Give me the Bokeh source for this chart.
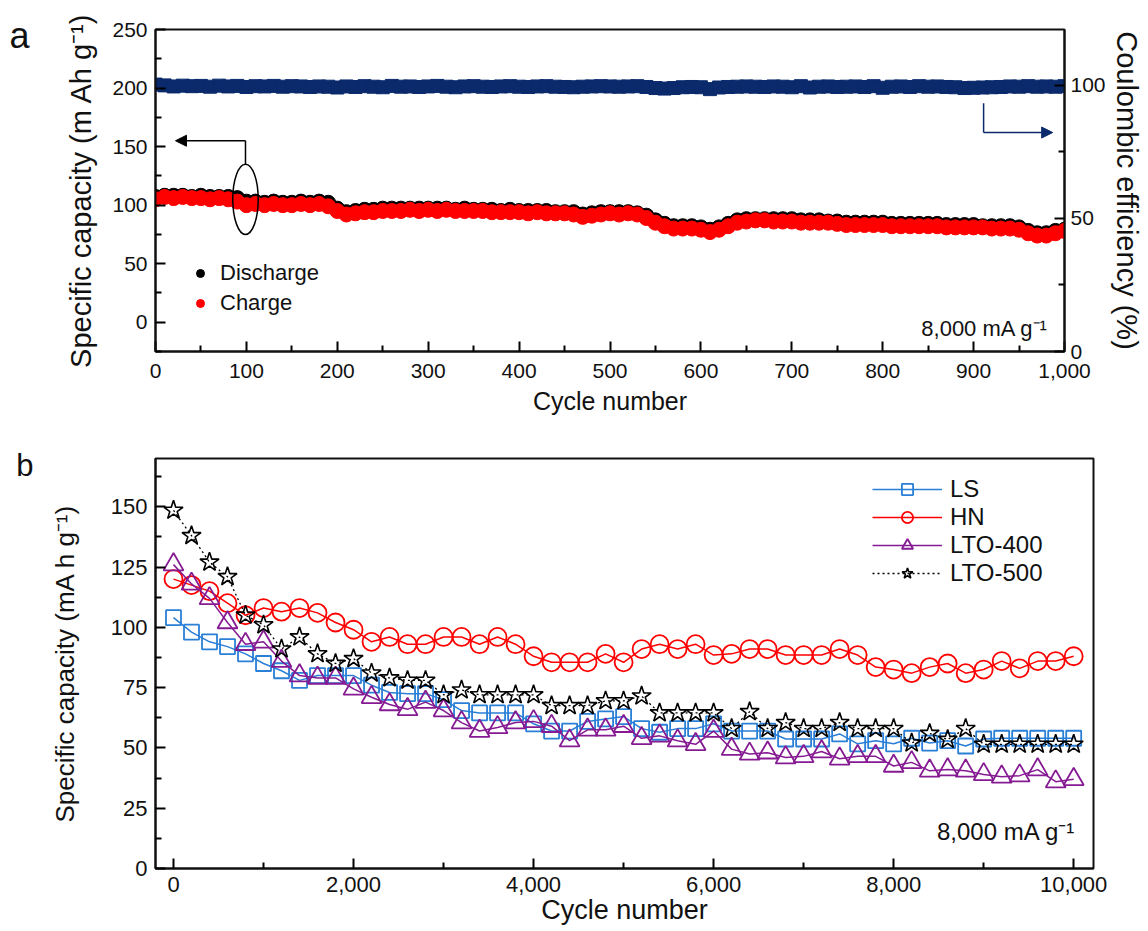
from bokeh.plotting import figure
from bokeh.models import (Range1d, LinearAxis, FixedTicker, NumeralTickFormatter,
                          Legend, LegendItem, Label, Arrow, NormalHead)
from bokeh.embed import file_html
from bokeh.resources import INLINE

FONT = "Liberation Sans"

# ---------------- panel a data (every 10 cycles) ----------------
cycles_a = list(range(0, 1001, 10))
discharge = [
    107, 108, 108, 108, 107, 108, 107, 107, 107, 106,
    103, 103, 102, 103, 102, 102, 103, 102, 103, 102,
    97, 94, 95, 96, 96, 97, 97, 97, 97, 97,
    97, 97, 97, 96, 97, 96, 96, 96, 95, 96,
    95, 95, 95, 95, 94, 94, 94, 92, 93, 94,
    94, 94, 94, 93, 91, 87, 84, 82, 82, 82,
    81, 79, 81, 84, 87, 88, 88, 88, 88, 88,
    88, 87, 87, 87, 86, 86, 85, 85, 85, 85,
    85, 84, 84, 84, 84, 84, 84, 83, 83, 83,
    83, 82, 82, 82, 82, 81, 78, 76, 76, 78,
    79]
charge = [
    105, 107, 106, 107, 106, 106, 105, 106, 105, 103,
    100, 101, 100, 101, 100, 100, 101, 100, 101, 99,
    95, 92, 93, 94, 94, 95, 95, 95, 96, 95,
    96, 95, 96, 95, 95, 95, 95, 94, 94, 94,
    94, 93, 94, 93, 93, 93, 92, 90, 91, 92,
    93, 92, 93, 92, 89, 85, 82, 80, 80, 80,
    79, 77, 79, 82, 85, 86, 87, 87, 86, 86,
    86, 85, 85, 85, 85, 84, 83, 83, 83, 83,
    83, 82, 82, 82, 82, 82, 82, 81, 81, 81,
    81, 81, 80, 80, 80, 79, 76, 74, 74, 76,
    78]
coulombic = [
    100.3, 100.0, 99.6, 99.9, 99.7, 99.8, 99.5, 99.9, 99.6, 99.8,
    99.4, 99.7, 99.6, 99.8, 99.5, 99.7, 99.6, 99.4, 99.6, 99.5,
    99.2, 99.6, 99.4, 99.7, 99.5, 99.3, 99.8, 99.5, 99.6, 99.4,
    99.6, 99.8, 99.5, 99.3, 99.6, 99.7, 99.5, 99.4, 99.6, 99.7,
    99.5, 99.4, 99.6, 99.7, 99.5, 99.4, 99.3, 99.5, 99.6, 99.7,
    99.6, 99.5, 99.6, 99.7, 99.4, 99.0, 98.8, 99.0, 99.3, 99.4,
    99.3, 98.6, 99.2, 99.4, 99.5, 99.6, 99.5, 99.4, 99.6, 99.5,
    99.3, 99.7, 99.2, 99.5, 99.6, 99.4, 99.5, 99.6, 99.4, 99.7,
    99.1, 99.5, 99.6, 99.4, 99.7, 99.5, 99.6, 99.4, 99.3, 99.0,
    99.1, 99.2, 99.3, 99.4, 99.6, 99.5, 99.7, 99.5, 99.6, 99.5,
    99.7]

# ---------------- panel b data (every 200 cycles) ----------------
cycles_b = list(range(0, 10001, 200))
ls = [104, 98, 94, 92, 89, 85, 82, 78, 80, 80,
      80, 76, 73, 72.5, 72.5, 70, 65.5, 64.5, 64.5, 64.5,
      60, 57, 57, 61, 62, 63, 58, 56.5, 58, 58,
      60, 57, 57, 57, 53.7, 53.7, 53.7, 55.8, 51.7, 53,
      51.7, 54, 52, 53, 50.8, 53.7, 54, 54, 54, 54,
      54]
hn = [120, 117.5, 115, 110, 105, 108, 106.5, 108, 106, 102,
      99, 94, 96, 93, 93, 96, 96, 93, 96, 93,
      88, 85.5, 85.5, 85.5, 89, 85.5, 91, 93, 91, 93,
      88.5, 89, 91, 91, 88.5, 88.5, 88.5, 91, 88.5, 83.5,
      82.5, 81, 83.5, 85, 81, 82.5, 86, 83, 86, 86,
      88]
lto400 = [126, 118, 112, 102, 93, 94, 86, 80, 79, 79,
          74.5, 71, 68, 66, 69, 65.5, 60.5, 57, 58.5, 60.5,
          61, 59, 53, 57.5, 57.5, 59, 54, 55, 53, 51.5,
          57, 49.5, 47.5, 48, 46, 46.5, 48.5, 45.5, 46.5, 46.5,
          42.5, 44, 40.5, 41, 40.5, 39, 38, 38.5, 41, 36,
          37]
lto500 = [148.5, 138, 127, 121, 105, 101, 91, 96, 89, 85,
          87, 81, 79, 78, 78, 72, 74, 72, 72, 72,
          72, 67.5, 67.5, 67.5, 69.5, 69.5, 71.5, 64.5, 64.5, 64.5,
          64.5, 58, 65, 58, 60.5, 58, 58, 60.5, 58, 58,
          58, 52, 56, 53.5, 58, 51.5, 51.5, 51.5, 51.5, 51.5,
          51.5]

NAVY = "#0a2a6c"
RED = "#ff0000"
BLUE = "#2a7fd6"
PURPLE = "#851a92"


def style_axis(ax, tick_fs, label_fs):
    ax.axis_line_width = 2
    ax.axis_line_color = "#111111"
    ax.major_tick_in = 10
    ax.major_tick_out = 0
    ax.minor_tick_in = 6
    ax.minor_tick_out = 0
    ax.major_tick_line_width = 2
    ax.minor_tick_line_width = 2
    ax.major_label_text_font = FONT
    ax.major_label_text_font_size = tick_fs
    ax.major_label_text_color = "#111111"
    ax.axis_label_text_font = FONT
    ax.axis_label_text_font_size = label_fs
    ax.axis_label_text_font_style = "normal"
    ax.axis_label_text_color = "#111111"


def panel_letter(p, letter, size, at, standoff):
    # an empty outer axis whose single tick label carries the panel letter
    ax = LinearAxis(ticker=FixedTicker(ticks=[at], minor_ticks=[]),
                    major_label_overrides={at: letter},
                    major_label_standoff=standoff, major_label_text_font=FONT,
                    major_label_text_font_size=size,
                    major_label_text_color="#111111", axis_line_color=None,
                    major_tick_line_color=None, minor_tick_line_color=None)
    p.add_layout(ax, "left")


# ================= panel a =================
pa = figure(width=1148, height=431, output_backend="svg", toolbar_location=None,
            x_range=Range1d(0, 1000), y_range=Range1d(-25, 250),
            min_border_left=155, min_border_right=84, min_border_top=29,
            min_border_bottom=80)
pa.extra_y_ranges = {"ce": Range1d(0, 121)}
pa.xgrid.visible = False
pa.ygrid.visible = False
pa.outline_line_color = "#111111"
pa.outline_line_width = 2

pa.xaxis.ticker = FixedTicker(ticks=list(range(0, 1001, 100)),
                              minor_ticks=list(range(50, 1000, 100)))
pa.xaxis.formatter = NumeralTickFormatter(format="0,0")
pa.xaxis.axis_label = "Cycle number"
pa.yaxis.ticker = FixedTicker(ticks=list(range(0, 251, 50)),
                              minor_ticks=list(range(-25, 250, 50)))
pa.yaxis.axis_label = "Specific capacity (m Ah g\u207b\u00b9)"
style_axis(pa.xaxis[0], "21px", "25px")
style_axis(pa.yaxis[0], "21px", "29px")
pa.yaxis.major_label_standoff = 8
pa.yaxis.axis_label_standoff = 12
pa.xaxis.major_label_standoff = 12
pa.xaxis.axis_label_standoff = 6

ax_r = LinearAxis(y_range_name="ce", axis_label="Coulombic efficiency (%)",
                  ticker=FixedTicker(ticks=[0, 50, 100], minor_ticks=[25, 75]))
style_axis(ax_r, "21px", "29px")
ax_r.major_label_standoff = 6
ax_r.axis_label_standoff = 2
pa.add_layout(ax_r, "right")
panel_letter(pa, "a", "36px", 245, 27)

pa.scatter(cycles_a, coulombic, y_range_name="ce", marker="square", size=13,
           fill_color=NAVY, line_color=NAVY)
r_dis = pa.scatter(cycles_a, discharge, marker="circle", size=15,
                   fill_color="black", line_color="black")
r_chg = pa.scatter(cycles_a, charge, marker="circle", size=15,
                   fill_color=RED, line_color=RED)

pa.ellipse(x=[99], y=[105], width=28, height=60, fill_color=None,
           line_color="black", line_width=1.5)
pa.line([99, 99], [135, 155], line_color="black", line_width=1.5)
pa.add_layout(Arrow(x_start=99, y_start=155, x_end=22, y_end=155,
                    line_color="black", line_width=1.5,
                    end=NormalHead(size=11, fill_color="black", line_color="black")))
pa.line([911, 911], [187, 162], line_color=NAVY, line_width=1.5)
pa.add_layout(Arrow(x_start=911, y_start=162, x_end=987, y_end=162,
                    line_color=NAVY, line_width=1.5,
                    end=NormalHead(size=11, fill_color=NAVY, line_color=NAVY)))

leg_a = Legend(items=[LegendItem(label="Discharge", renderers=[r_dis]),
                      LegendItem(label="Charge", renderers=[r_chg])],
               location=(35, 33), padding=0, margin=0, spacing=0,
               glyph_width=20, glyph_height=30, label_height=30,
               label_standoff=10, border_line_color=None,
               background_fill_alpha=0, label_text_font=FONT,
               label_text_font_size="22px", label_text_color="#111111")
pa.add_layout(leg_a)

pa.add_layout(Label(x=982, y=-5, text="8,000 mA g\u207b\u00b9", text_align="right",
                    text_baseline="alphabetic", text_font=FONT,
                    text_font_size="22px", text_color="#111111"))

# ================= panel b =================
pb = figure(width=1148, height=499, output_backend="svg", toolbar_location=None,
            x_range=Range1d(-200, 10220), y_range=Range1d(0, 170),
            min_border_left=155, min_border_right=55, min_border_top=27,
            min_border_bottom=62)
pb.xgrid.visible = False
pb.ygrid.visible = False
pb.outline_line_color = "#111111"
pb.outline_line_width = 2

pb.xaxis.ticker = FixedTicker(ticks=list(range(0, 10001, 2000)),
                              minor_ticks=list(range(1000, 10000, 2000)))
pb.xaxis.formatter = NumeralTickFormatter(format="0,0")
pb.xaxis.axis_label = "Cycle number"
pb.yaxis.ticker = FixedTicker(ticks=[0, 25, 50, 75, 100, 125, 150],
                              minor_ticks=[12.5, 37.5, 62.5, 87.5, 112.5, 137.5, 162.5])
pb.yaxis.axis_label = "Specific capacity (mA h g\u207b\u00b9)"
style_axis(pb.xaxis[0], "22px", "27px")
style_axis(pb.yaxis[0], "22px", "26px")
pb.yaxis.major_label_standoff = 8
pb.yaxis.axis_label_standoff = 28
pb.xaxis.major_label_standoff = 8
pb.xaxis.axis_label_standoff = 0
panel_letter(pb, "b", "31px", 167, 7)

l1 = pb.line(cycles_b, ls, line_color=BLUE, line_width=1.5)
m1 = pb.scatter(cycles_b, ls, marker="square", size=15, fill_color=None,
                line_color=BLUE, line_width=1.8)
l2 = pb.line(cycles_b, hn, line_color=RED, line_width=1.5)
m2 = pb.scatter(cycles_b, hn, marker="circle", size=18, fill_color=None,
                line_color=RED, line_width=1.8)
l3 = pb.line(cycles_b, lto400, line_color=PURPLE, line_width=1.5)
m3 = pb.scatter(cycles_b, lto400, marker="triangle", size=20, fill_color=None,
                line_color=PURPLE, line_width=1.8)
l4 = pb.line(cycles_b, lto500, line_color="black", line_width=1.3, line_dash="2 3")
m4 = pb.scatter(cycles_b, lto500, marker="star", size=20, fill_color=None,
                line_color="black", line_width=1.6)

leg_b = Legend(items=[LegendItem(label="LS", renderers=[l1, m1]),
                      LegendItem(label="HN", renderers=[l2, m2]),
                      LegendItem(label="LTO-400", renderers=[l3, m3]),
                      LegendItem(label="LTO-500", renderers=[l4, m4])],
               location=(717, 281), padding=0, margin=0, spacing=0,
               glyph_width=70, glyph_height=28, label_height=28,
               label_standoff=8, border_line_color=None,
               background_fill_alpha=0, label_text_font=FONT,
               label_text_font_size="24px", label_text_color="#111111")
pb.add_layout(leg_b)

pb.add_layout(Label(x=10022, y=15.4, text="8,000 mA g\u207b\u00b9", text_align="right",
                    text_baseline="alphabetic", text_font=FONT,
                    text_font_size="24px", text_color="#111111"))

open("out.html", "w").write(file_html([pa, pb], INLINE))
